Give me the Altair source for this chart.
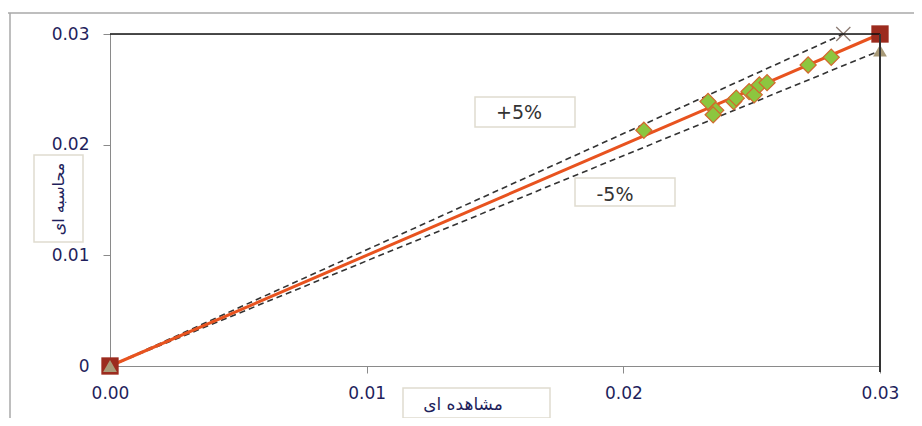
import altair as alt
import pandas as pd

# Observed (مشاهده ای) vs computed (محاسبه ای)
obs_vals = [0.0208, 0.0233, 0.0236, 0.0235, 0.0243, 0.0244, 0.0249, 0.0251, 0.0253, 0.0256, 0.0272, 0.0281]
calc_vals = [0.0213, 0.0239, 0.0231, 0.0227, 0.0239, 0.0242, 0.0248, 0.0245, 0.0254, 0.0256, 0.0272, 0.0279]

# reference lines
one_x = [0.0, 0.03]
one_y = [0.0, 0.03]
plus_x = [0.0, 0.02857]
plus_y = [0.0, 0.03]
minus_x = [0.0, 0.03]
minus_y = [0.0, 0.0285]

tick_vals = [0.0, 0.01, 0.02, 0.03]
x_title = "مشاهده ای"
y_title = "محاسبه ای"
plus_label = "+5%"
minus_label = "-5%"

FONT = "DejaVu Sans"
W, H = 770, 332

pts = pd.DataFrame({"obs": obs_vals, "calc": calc_vals})
one_df = pd.DataFrame({"obs": one_x, "calc": one_y})
plus_df = pd.DataFrame({"obs": plus_x, "calc": plus_y})
minus_df = pd.DataFrame({"obs": minus_x, "calc": minus_y})
single = pd.DataFrame({"a": [0]})

xs = alt.Scale(domain=[0, 0.03], nice=False, zero=False)
ys = alt.Scale(domain=[0, 0.03], nice=False, zero=False)

axis_common = dict(
    values=tick_vals, grid=False, domainColor="#8a8a8a", tickColor="#8a8a8a",
    tickSize=7, labelFont=FONT, labelFontSize=17, labelColor="#1f1f5c", title=None,
    labelFlush=False, labelOverlap=False,
)
X = alt.X("obs:Q", scale=xs, axis=alt.Axis(format=".2f", labelPadding=12, **axis_common))
Y = alt.Y("calc:Q", scale=ys, axis=alt.Axis(
    labelExpr="datum.value == 0 ? '0' : format(datum.value, '.2f')", labelPadding=14, **axis_common))

# frame lines (top black, right dark)
top_line = alt.Chart(single).mark_rule(color="#111111", strokeWidth=1.5).encode(
    x=alt.value(0), x2=alt.value(W), y=alt.value(0))
right_line = alt.Chart(single).mark_rule(color="#333333", strokeWidth=2).encode(
    x=alt.value(W), y=alt.value(0), y2=alt.value(H + 6))
# outer window frame
outer_top = alt.Chart(single).mark_rule(color="#a8a8a8", strokeWidth=1.5).encode(
    x=alt.value(-105), x2=alt.value(W + 40), y=alt.value(-21))
outer_left = alt.Chart(single).mark_rule(color="#a8a8a8", strokeWidth=1.5).encode(
    x=alt.value(-100), y=alt.value(-21), y2=alt.value(H + 60))

plus_line = alt.Chart(plus_df).mark_line(color="#333333", strokeDash=[6, 4], strokeWidth=1.6).encode(x=X, y=Y)
minus_line = alt.Chart(minus_df).mark_line(color="#333333", strokeDash=[6, 4], strokeWidth=1.6).encode(x=X, y=Y)
one_line = alt.Chart(one_df).mark_line(color="#e8531f", strokeWidth=3).encode(x=X, y=Y)

diamonds = alt.Chart(pts).mark_point(
    shape="diamond", filled=True, fill="#8cc63f", stroke="#d2692c", strokeWidth=1.2,
    size=260, opacity=1).encode(x=X, y=Y)

squares = alt.Chart(one_df).mark_point(
    shape="square", filled=True, color="#9c2b1e", size=300, opacity=1).encode(x=X, y=Y)
triangles = alt.Chart(minus_df).mark_point(
    shape="triangle-up", filled=True, color="#a89a78", size=190, opacity=1).encode(x=X, y=Y)
crosses = alt.Chart(plus_df.iloc[1:]).mark_point(
    shape="M-1,-1L1,1M-1,1L1,-1", filled=False, color="#8c7b73", strokeWidth=1.3,
    size=200, opacity=1).encode(x=X, y=Y)

box_style = dict(fill="white", stroke="#e0dccf", strokeWidth=1.5)
plus_box = alt.Chart(single).mark_rect(**box_style).encode(
    x=alt.value(365), x2=alt.value(465), y=alt.value(63), y2=alt.value(93))
plus_txt = alt.Chart(single).mark_text(font=FONT, fontSize=19, color="#333333").encode(
    x=alt.value(409), y=alt.value(79), text=alt.value(plus_label))
minus_box = alt.Chart(single).mark_rect(**box_style).encode(
    x=alt.value(465), x2=alt.value(565), y=alt.value(144), y2=alt.value(172))
minus_txt = alt.Chart(single).mark_text(font=FONT, fontSize=19, color="#333333").encode(
    x=alt.value(505), y=alt.value(161), text=alt.value(minus_label))

ybox = alt.Chart(single).mark_rect(**box_style).encode(
    x=alt.value(-76), x2=alt.value(-27), y=alt.value(121), y2=alt.value(208))
ytxt = alt.Chart(single).mark_text(font=FONT, fontSize=16, color="#1f1f5c", angle=270).encode(
    x=alt.value(-51), y=alt.value(165), text=alt.value(y_title))
xbox = alt.Chart(single).mark_rect(**box_style).encode(
    x=alt.value(293), x2=alt.value(440), y=alt.value(354), y2=alt.value(384))
xtxt = alt.Chart(single).mark_text(font=FONT, fontSize=17, color="#1f1f5c").encode(
    x=alt.value(353), y=alt.value(371), text=alt.value(x_title))

chart = alt.layer(
    outer_top, outer_left,
    plus_box, plus_txt, minus_box, minus_txt, ybox, ytxt, xbox, xtxt,
    plus_line, minus_line, one_line, diamonds,
    squares, triangles, crosses, top_line, right_line,
).properties(
    width=W, height=H,
    autosize=alt.AutoSizeParams(type="none"),
    padding={"left": 102, "top": 26, "right": 34, "bottom": 52},
).configure_view(stroke=None).configure(background="white")

chart.save("out.html", embed_options={"renderer": "svg", "actions": False})
